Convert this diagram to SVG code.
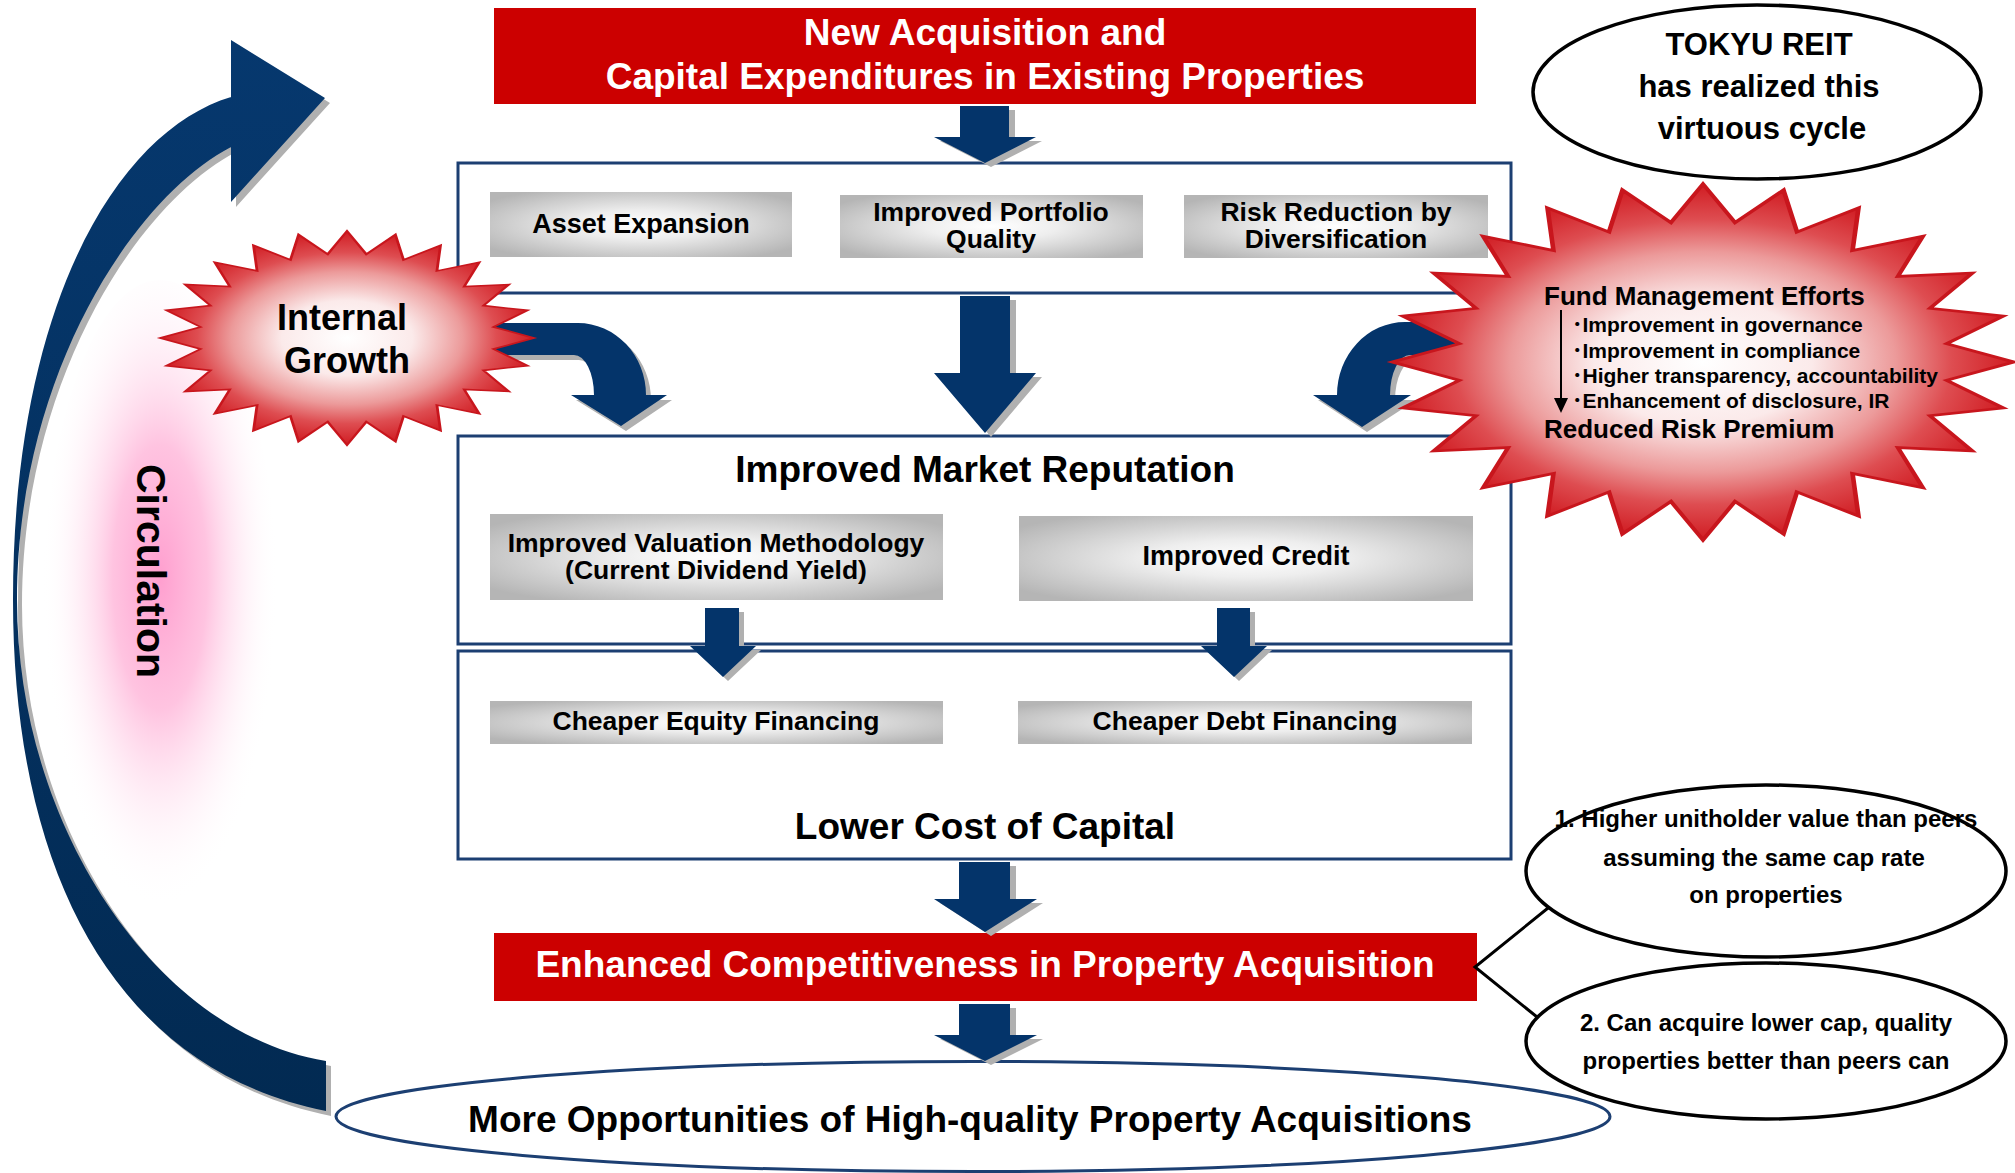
<svg xmlns="http://www.w3.org/2000/svg" xmlns:xlink="http://www.w3.org/1999/xlink" width="2015" height="1173" viewBox="0 0 2015 1173">
<style>
.t{font-family:"Liberation Sans",Arial,sans-serif;font-weight:bold;text-anchor:middle;fill:#000}
.ts{font-family:"Liberation Sans",Arial,"Noto Sans CJK JP",sans-serif;font-weight:bold;fill:#000}
.w{fill:#fff}
.box{fill:#fff;stroke:#1c3f72;stroke-width:3}
.red{fill:#cc0000}
.gb{fill:url(#gbox)}
.arr{fill:#04346a}
.sh{fill:#b0b0b0}
.ell{fill:#fff;stroke:#000;stroke-width:3.5}
.star{fill:url(#starGrad);stroke:#c8161d;stroke-width:1.5}
</style>
<defs>
<radialGradient id="gbox" cx="50%" cy="50%" r="62%">
<stop offset="0" stop-color="#ffffff"/>
<stop offset="0.35" stop-color="#eeeeee"/>
<stop offset="1" stop-color="#b5b5b5"/>
</radialGradient>
<radialGradient id="starGrad" cx="50%" cy="50%" r="50%">
<stop offset="0" stop-color="#ffffff"/>
<stop offset="0.35" stop-color="#fbeaea"/>
<stop offset="0.62" stop-color="#ec9a9a"/>
<stop offset="0.8" stop-color="#de4d51"/>
<stop offset="1" stop-color="#d01c22"/>
</radialGradient>
<radialGradient id="pink" cx="50%" cy="45%" r="50%">
<stop offset="0" stop-color="#ff9fcf" stop-opacity="1"/>
<stop offset="0.4" stop-color="#ffbddd" stop-opacity="0.9"/>
<stop offset="1" stop-color="#ffffff" stop-opacity="0"/>
</radialGradient>
<linearGradient id="circ" x1="0" y1="0" x2="0" y2="1">
<stop offset="0" stop-color="#06386e"/>
<stop offset="1" stop-color="#022a52"/>
</linearGradient>
<polygon id="star" points="0,-100 10.31,-78.32 25.88,-96.59 30.23,-72.99 50,-86.6 48.09,-62.67 70.71,-70.71 62.67,-48.09 86.6,-50 72.99,-30.23 96.59,-25.88 78.32,-10.31 100,0 78.32,10.31 96.59,25.88 72.99,30.23 86.6,50 62.67,48.09 70.71,70.71 48.09,62.67 50,86.6 30.23,72.99 25.88,96.59 10.31,78.32 0,100 -10.31,78.32 -25.88,96.59 -30.23,72.99 -50,86.6 -48.09,62.67 -70.71,70.71 -62.67,48.09 -86.6,50 -72.99,30.23 -96.59,25.88 -78.32,10.31 -100,0 -78.32,-10.31 -96.59,-25.88 -72.99,-30.23 -86.6,-50 -62.67,-48.09 -70.71,-70.71 -48.09,-62.67 -50,-86.6 -30.23,-72.99 -25.88,-96.59 -10.31,-78.32"/>
<path id="circPath" d="M231,97 C120,130 13,300 13,600 C13,880 120,1070 326,1111 L326,1061 C160,1035 17,830 17,600 C17,380 130,200 231,147 Z M231,40 L325,98 L231,202 Z"/>
<path id="curveL" d="M470,323 H578 A68,72 0 0 1 646,395 H667 L621,426 L571,395 H594 A20,40 0 0 0 574,355 H470 Z"/>
<path id="curveR" d="M1480,322 H1405 A68,73 0 0 0 1337,395 H1313 L1362,427 L1411,395 H1390 A20,40 0 0 1 1410,355 H1480 Z"/>
<polygon id="arrA" points="960,106 1009,106 1009,137 1036,137 985,163 934,137 960,137"/>
<polygon id="arrB" points="960,296 1010,296 1010,373 1036,373 985,433 934,373 960,373"/>
<polygon id="arrC" points="705,608 739,608 739,646 756,646 723,677 690,646 705,646"/>
<polygon id="arrD" points="1217,608 1250,608 1250,646 1267,646 1234,677 1201,646 1217,646"/>
<polygon id="arrE" points="959,862 1010,862 1010,899 1037,899 985,932 934,899 959,899"/>
<polygon id="arrF" points="959,1004 1010,1004 1010,1035 1037,1035 985,1061 934,1035 959,1035"/>
</defs>

<rect width="2015" height="1173" fill="#fff"/>

<g id="circulation-label">
<ellipse cx="160" cy="610" rx="118" ry="330" fill="url(#pink)"/>
<text class="t" font-size="41" transform="translate(137,571) rotate(90)">Circulation</text>
</g>

<g id="node-new-acquisition">
<rect class="red" x="494" y="8" width="982" height="96"/>
<text class="t w" font-size="37" x="985" y="45">New Acquisition and<tspan x="985" y="89">Capital Expenditures in Existing Properties</tspan></text>
</g>

<g id="node-box1">
<rect class="box" x="458" y="163" width="1053" height="130"/>
</g>
<g id="node-asset-expansion">
<rect class="gb" x="490" y="192" width="302" height="65"/>
<text class="t" font-size="27" x="641" y="233">Asset Expansion</text>
</g>
<g id="node-portfolio-quality">
<rect class="gb" x="840" y="195" width="303" height="63"/>
<text class="t" font-size="26.5" x="991" y="221">Improved Portfolio<tspan x="991" y="248">Quality</tspan></text>
</g>
<g id="node-risk-reduction">
<rect class="gb" x="1184" y="195" width="304" height="63"/>
<text class="t" font-size="26.5" x="1336" y="221">Risk Reduction by<tspan x="1336" y="248">Diversification</tspan></text>
</g>

<g id="node-market-reputation">
<rect class="box" x="458" y="436" width="1053" height="208"/>
<text class="t" font-size="37" x="985" y="482">Improved Market Reputation</text>
</g>
<g id="node-valuation">
<rect class="gb" x="490" y="514" width="453" height="86"/>
<text class="t" font-size="26.5" x="716" y="552">Improved Valuation Methodology<tspan x="716" y="579">(Current Dividend Yield)</tspan></text>
</g>
<g id="node-credit">
<rect class="gb" x="1019" y="516" width="454" height="85"/>
<text class="t" font-size="27" x="1246" y="565">Improved Credit</text>
</g>

<g id="node-cost-of-capital">
<rect class="box" x="458" y="651" width="1053" height="208"/>
<text class="t" font-size="37" x="985" y="839">Lower Cost of Capital</text>
</g>
<g id="node-equity">
<rect class="gb" x="490" y="701" width="453" height="43"/>
<text class="t" font-size="26.5" x="716" y="730">Cheaper Equity Financing</text>
</g>
<g id="node-debt">
<rect class="gb" x="1018" y="701" width="454" height="43"/>
<text class="t" font-size="26.5" x="1245" y="730">Cheaper Debt Financing</text>
</g>

<g id="node-competitiveness">
<rect class="red" x="494" y="933" width="983" height="68"/>
<text class="t w" font-size="37" x="985" y="977">Enhanced Competitiveness in Property Acquisition</text>
</g>

<g id="node-opportunities">
<ellipse cx="973" cy="1116.5" rx="637" ry="55" fill="#fff" stroke="#1c3f72" stroke-width="3"/>
<text class="t" font-size="37" x="970" y="1132">More Opportunities of High-quality Property Acquisitions</text>
</g>

<g id="connectors">
<use xlink:href="#circPath" class="sh" transform="translate(5,5)"/>
<use xlink:href="#circPath" fill="url(#circ)"/>
<use xlink:href="#curveL" class="sh" transform="translate(5,5)"/>
<use xlink:href="#curveL" class="arr"/>
<use xlink:href="#curveR" class="sh" transform="translate(5,5)"/>
<use xlink:href="#curveR" class="arr"/>
<use xlink:href="#arrA" class="sh" transform="translate(6,4)"/>
<use xlink:href="#arrA" class="arr"/>
<use xlink:href="#arrB" class="sh" transform="translate(6,4)"/>
<use xlink:href="#arrB" class="arr"/>
<use xlink:href="#arrC" class="sh" transform="translate(5,4)"/>
<use xlink:href="#arrC" class="arr"/>
<use xlink:href="#arrD" class="sh" transform="translate(5,4)"/>
<use xlink:href="#arrD" class="arr"/>
<use xlink:href="#arrE" class="sh" transform="translate(6,4)"/>
<use xlink:href="#arrE" class="arr"/>
<use xlink:href="#arrF" class="sh" transform="translate(6,4)"/>
<use xlink:href="#arrF" class="arr"/>
<polyline points="1553,904 1475,967 1537,1017" fill="none" stroke="#000" stroke-width="3"/>
</g>

<g id="node-internal-growth">
<use xlink:href="#star" class="star" vector-effect="non-scaling-stroke" transform="translate(347,338) scale(1.87,1.07)"/>
<text class="t" font-size="36" x="342" y="330">Internal<tspan x="347" y="373">Growth</tspan></text>
</g>

<g id="node-fund-management">
<use xlink:href="#star" class="star" vector-effect="non-scaling-stroke" transform="translate(1703,362) scale(3.11,1.78)"/>
<text class="ts" font-size="26" x="1544" y="305">Fund Management Efforts</text>
<text class="ts" font-size="21" x="1572" y="332">･Improvement in governance<tspan x="1572" y="358">･Improvement in compliance</tspan><tspan x="1572" y="383">･Higher transparency, accountability</tspan><tspan x="1572" y="408">･Enhancement of disclosure, IR</tspan></text>
<text class="ts" font-size="26" x="1544" y="438">Reduced Risk Premium</text>
<line x1="1561" y1="310" x2="1561" y2="400" stroke="#000" stroke-width="2"/>
<polygon points="1554,398 1568,398 1561,413" fill="#000"/>
</g>

<g id="node-tokyu-reit">
<ellipse class="ell" cx="1757" cy="92" rx="224" ry="87"/>
<text class="t" font-size="31" x="1759" y="55">TOKYU REIT<tspan x="1759" y="97">has realized this</tspan><tspan x="1762" y="139">virtuous cycle</tspan></text>
</g>

<g id="node-benefit-1">
<ellipse class="ell" cx="1766" cy="871" rx="240" ry="86"/>
<text class="t" font-size="24" x="1766" y="827">1. Higher unitholder value than peers<tspan x="1764" y="866">assuming the same cap rate</tspan><tspan x="1766" y="903">on properties</tspan></text>
</g>

<g id="node-benefit-2">
<ellipse class="ell" cx="1766" cy="1041" rx="240" ry="78"/>
<text class="t" font-size="24" x="1766" y="1031">2. Can acquire lower cap, quality<tspan x="1766" y="1069">properties better than peers can</tspan></text>
</g>
</svg>
